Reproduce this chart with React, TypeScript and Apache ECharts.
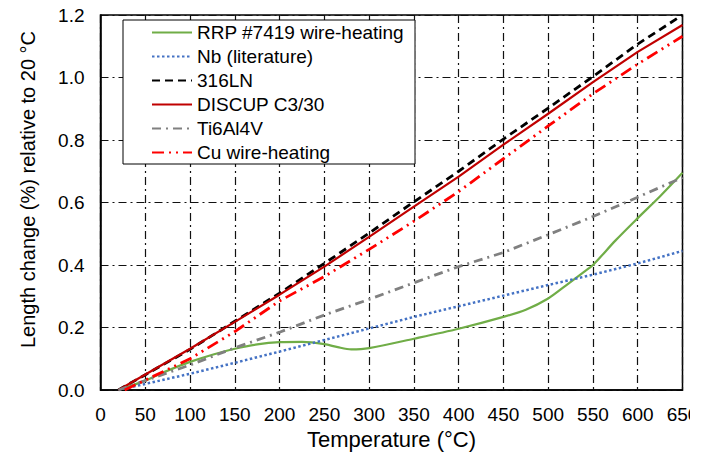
import React, { useEffect, useRef } from "react";
import * as echarts from "echarts";

const seriesNames = [
  "RRP #7419 wire-heating",
  "Nb (literature)",
  "316LN",
  "DISCUP C3/30",
  "Ti6Al4V",
  "Cu wire-heating",
];

const rrpT = [20, 50, 75, 100, 125, 150, 175, 200, 225, 250, 265, 280, 300, 350, 400, 450, 475, 500, 520, 540, 550, 575, 600, 625, 650];
const rrpV = [0, 0.03, 0.062, 0.09, 0.113, 0.132, 0.146, 0.153, 0.154, 0.147, 0.137, 0.13, 0.134, 0.164, 0.196, 0.234, 0.257, 0.293, 0.335, 0.378, 0.4, 0.478, 0.55, 0.62, 0.695];

const stdT = [20, 100, 150, 200, 250, 300, 350, 400, 450, 500, 550, 600, 650];
const nbV = [0, 0.052, 0.087, 0.123, 0.16, 0.197, 0.234, 0.268, 0.302, 0.336, 0.369, 0.405, 0.445];
const ln316V = [0, 0.13, 0.22, 0.31, 0.405, 0.502, 0.602, 0.7, 0.803, 0.902, 1.003, 1.107, 1.2];
const discupV = [0, 0.132, 0.218, 0.305, 0.395, 0.49, 0.587, 0.683, 0.785, 0.884, 0.985, 1.082, 1.168];
const tiV = [0, 0.08, 0.135, 0.185, 0.24, 0.29, 0.343, 0.395, 0.44, 0.497, 0.555, 0.617, 0.68];

const cuT = [27, 100, 150, 200, 250, 300, 350, 400, 450, 500, 550, 600, 650];
const cuV = [0, 0.1, 0.187, 0.285, 0.363, 0.45, 0.54, 0.635, 0.74, 0.845, 0.948, 1.043, 1.132];

const xTicks = { min: 0, max: 650, interval: 50 };
const yTicks = { min: 0, max: 1.2, interval: 0.2 };

const pairs = (t: number[], v: number[]) => t.map((x, i) => [x, v[i]]);

const FONT = "'Liberation Sans', Arial, sans-serif";

export default function App() {
  const ref = useRef<HTMLDivElement>(null);
  useEffect(() => {
    if (!ref.current) return;
    const chart = echarts.init(ref.current, undefined, { renderer: "svg" });
    const mk = (name: string, data: number[][], color: string, width: number, type: any, smooth: any = false) => ({
      name,
      type: "line",
      data,
      symbol: "none",
      showSymbol: false,
      smooth,
      lineStyle: { color, width, type },
      itemStyle: { color },
    });
    const gridLine = { show: true, lineStyle: { color: "#111", width: 1.2, type: [8, 4, 2, 4] } };
    chart.setOption({
      animation: false,
      textStyle: { fontFamily: FONT },
      grid: {
        left: 100.5,
        right: 22.5,
        top: 15,
        bottom: 67,
        show: true,
        borderColor: "#000",
        borderWidth: 1.5,
      },
      xAxis: {
        type: "value",
        min: xTicks.min,
        max: xTicks.max,
        interval: xTicks.interval,
        name: "Temperature (°C)",
        nameLocation: "middle",
        nameGap: 37,
        nameTextStyle: { fontSize: 22, color: "#000", fontFamily: FONT },
        axisLine: { show: true, lineStyle: { color: "#000", width: 1.5 } },
        axisTick: { show: false },
        axisLabel: { fontSize: 19, color: "#000", margin: 15, fontFamily: FONT },
        splitLine: gridLine,
      },
      yAxis: {
        type: "value",
        min: yTicks.min,
        max: yTicks.max,
        interval: yTicks.interval,
        name: "Length change (%) relative to 20 °C",
        nameLocation: "middle",
        nameGap: 63,
        nameTextStyle: { fontSize: 20, color: "#000", fontFamily: FONT, padding: [0, 0, 0, 26] },
        axisLine: { show: true, lineStyle: { color: "#000", width: 1.5 } },
        axisTick: { show: false },
        axisLabel: {
          fontSize: 19,
          color: "#000",
          margin: 16,
          fontFamily: FONT,
          formatter: (v: number) => v.toFixed(1),
        },
        splitLine: gridLine,
      },
      legend: {
        orient: "vertical",
        left: 123,
        top: 20,
        padding: [3, 11, 2, 28],
        itemWidth: 40,
        itemHeight: 14,
        itemGap: 5,
        borderColor: "#000",
        borderWidth: 1,
        backgroundColor: "#fff",
        itemStyle: { opacity: 0 },
        textStyle: { fontSize: 19, color: "#000", fontFamily: FONT },
        data: seriesNames,
      },
      series: [
        mk(seriesNames[0], pairs(rrpT, rrpV), "#70AD47", 2.2, "solid", 0.3),
        mk(seriesNames[1], pairs(stdT, nbV), "#4472C4", 2.5, [2.5, 2.5]),
        mk(seriesNames[2], pairs(stdT, ln316V), "#000000", 2.8, [8, 5]),
        mk(seriesNames[3], pairs(stdT, discupV), "#C00000", 2.2, "solid"),
        mk(seriesNames[4], pairs(stdT, tiV), "#808080", 2.8, [9, 5, 2, 5]),
        mk(seriesNames[5], pairs(cuT, cuV), "#FF0000", 2.8, [12, 5, 2, 5, 2, 5]),
      ],
      graphic: [
        { type: "rect", z: 100, shape: { x: 690, y: 396, width: 15, height: 30 }, style: { fill: "#fff" } },
      ],
    });
    return () => chart.dispose();
  }, []);
  return (
    <div
      ref={ref}
      style={{ position: "fixed", left: 0, top: 0, width: 705, height: 457, background: "#fff" }}
    />
  );
}
